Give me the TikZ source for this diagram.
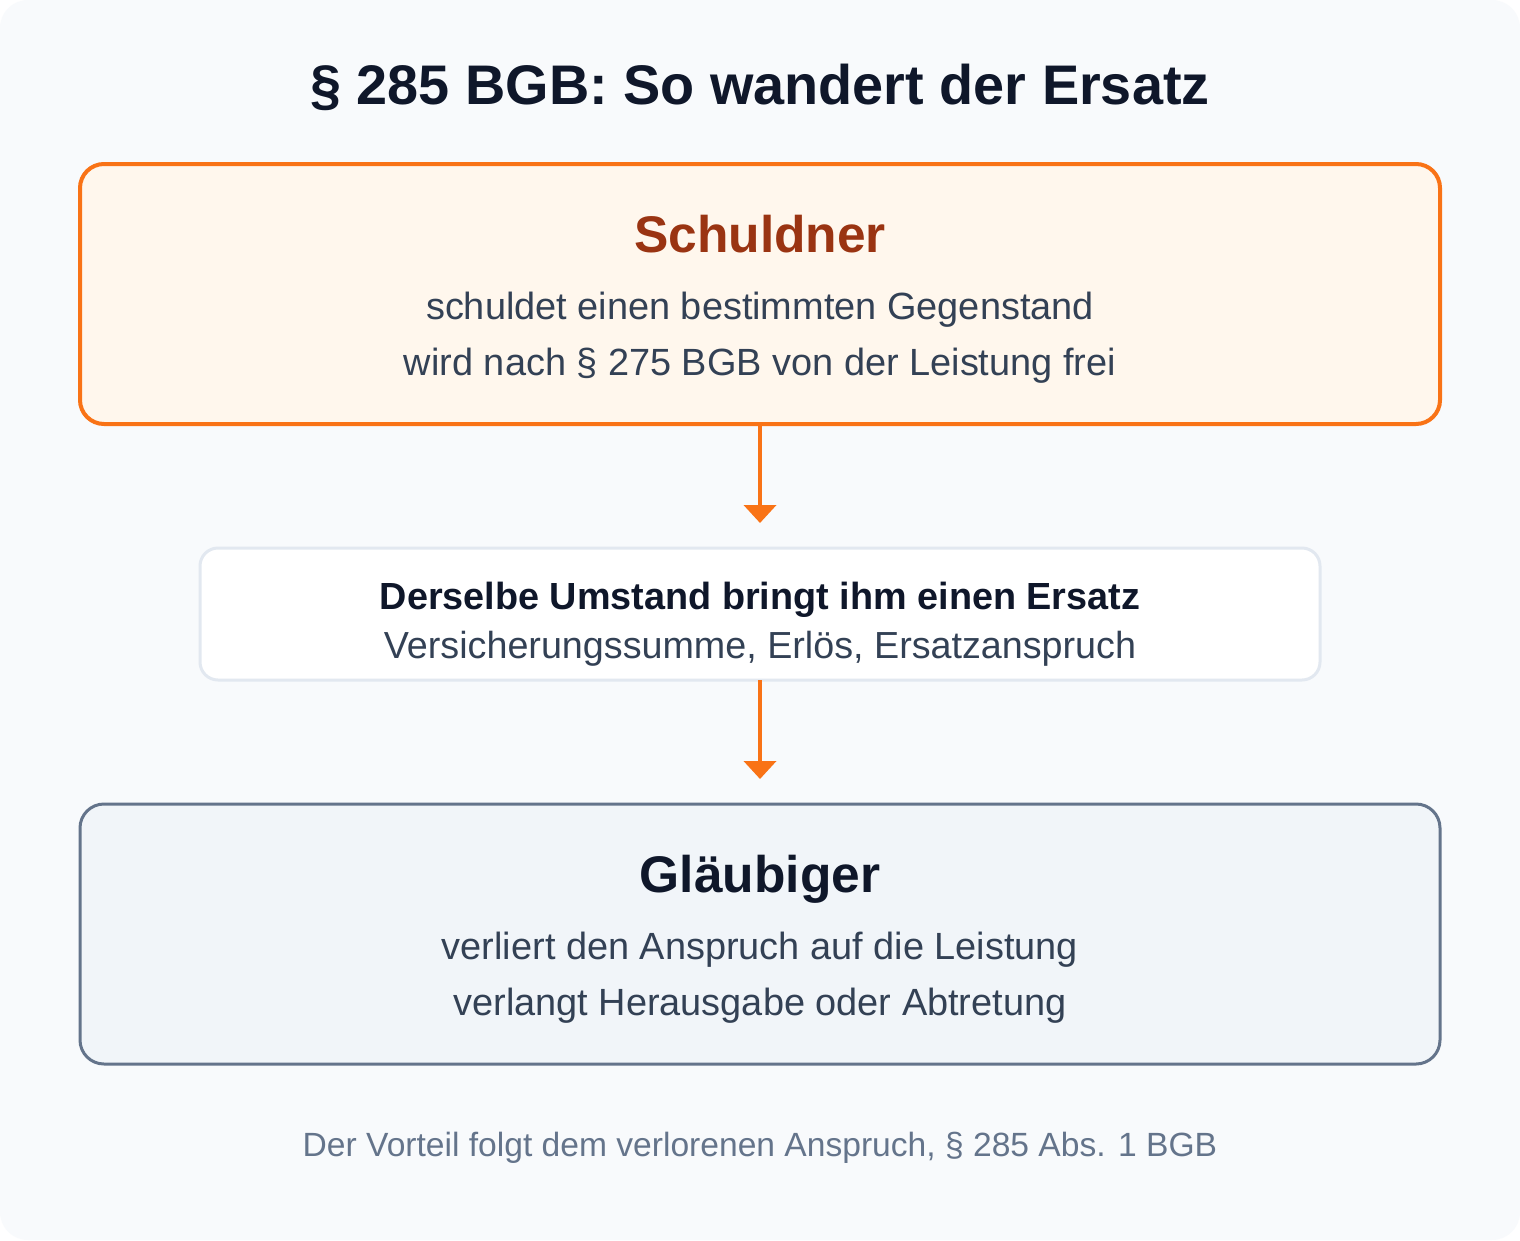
\documentclass[tikz,border=0pt]{standalone}
\usepackage{fontspec}
\setmainfont{Liberation Sans}
\usetikzlibrary{arrows.meta}
\definecolor{bgc}{HTML}{F8FAFC}
\definecolor{titlec}{HTML}{0F172A}
\definecolor{orangec}{HTML}{F97316}
\definecolor{orangefill}{HTML}{FFF7ED}
\definecolor{brownc}{HTML}{9A3412}
\definecolor{bodyc}{HTML}{334155}
\definecolor{grayline}{HTML}{E2E8F0}
\definecolor{slatec}{HTML}{64748B}
\definecolor{slatefill}{HTML}{F1F5F9}
\tikzset{
  boxbase/.style={rectangle, inner sep=0pt, outer sep=0pt},
  topbox/.style={boxbase, draw=orangec, fill=orangefill, line width=4pt, rounded corners=24pt, minimum width=1360pt, minimum height=260pt},
  midbox/.style={boxbase, draw=grayline, fill=white, line width=3pt, rounded corners=18pt, minimum width=1120pt, minimum height=132pt},
  botbox/.style={boxbase, draw=slatec, fill=slatefill, line width=3pt, rounded corners=24pt, minimum width=1360pt, minimum height=260pt},
  txt/.style={anchor=base, inner sep=0pt},
  flow/.style={draw=orangec, line width=4pt, -{Triangle[width=32pt,length=18pt]}, shorten >=25pt},
}
\begin{document}
\begin{tikzpicture}[x=1pt,y=-1pt]
\fill[white] (0,0) rectangle (1520,1240);
\fill[bgc, rounded corners=28pt] (0,0) rectangle (1520,1240);
\useasboundingbox (0,0) rectangle (1520,1240);

\node[txt, text=titlec, font=\fontsize{55.8}{60}\selectfont\bfseries] (title) at (760,104) {§ 285 BGB: So wandert der Ersatz};

\node[topbox] (s) at (760,294) {};
\node[txt, text=brownc, font=\fontsize{51.5}{56}\selectfont\bfseries] (sh) at (760,252) {Schuldner};
\node[txt, text=bodyc, font=\fontsize{37.9}{42}\selectfont] (s1) at (760,319) {schuldet einen bestimmten Gegenstand};
\node[txt, text=bodyc, font=\fontsize{37.9}{42}\selectfont] (s2) at (760,375) {wird nach § 275 BGB von der Leistung frei};

\node[midbox] (m) at (760,614) {};
\node[txt, text=titlec, font=\fontsize{37.8}{42}\selectfont\bfseries] (m1) at (760,609) {Derselbe Umstand bringt ihm einen Ersatz};
\node[txt, text=bodyc, font=\fontsize{37.7}{42}\selectfont] (m2) at (760,658) {Versicherungssumme, Erlös, Ersatzanspruch};

\node[botbox] (g) at (760,934) {};
\node[txt, text=titlec, font=\fontsize{51.5}{56}\selectfont\bfseries] (gh) at (760,892) {Gläubiger};
\node[txt, text=bodyc, font=\fontsize{37.9}{42}\selectfont] (g1) at (760,959) {verliert den Anspruch auf die Leistung};
\node[txt, text=bodyc, font=\fontsize{37.9}{42}\selectfont] (g2) at (760,1015) {verlangt Herausgabe oder Abtretung};

\node[txt, text=slatec, font=\fontsize{33.6}{38}\selectfont] (foot) at (760,1156) {Der Vorteil folgt dem verlorenen Anspruch, § 285 Abs. 1 BGB};

\draw[flow] (s.south) -- (m.north);
\draw[flow] (m.south) -- (g.north);
\end{tikzpicture}
\end{document}
